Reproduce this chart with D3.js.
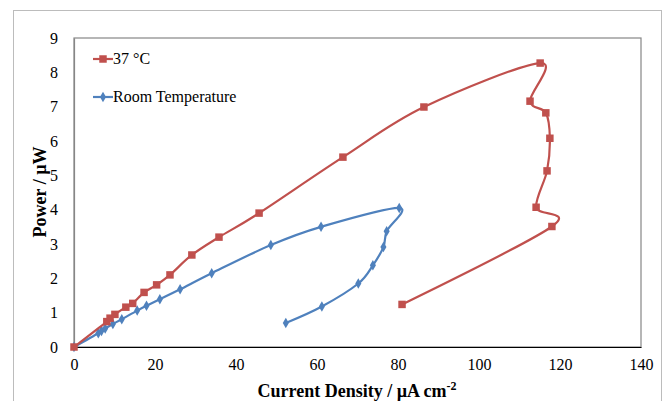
<!DOCTYPE html>
<html>
<head>
<meta charset="utf-8">
<script src="https://cdn.jsdelivr.net/npm/d3@7/dist/d3.min.js"></script>
<style>
  html, body { margin: 0; padding: 0; background: #fff; }
  svg { display: block; font-family: "Liberation Serif", "Times New Roman", serif; }
</style>
</head>
<body>
<svg id="chart" width="665" height="401"></svg>
<script>
// Power curve at 37 °C: current density (µA cm⁻²) and power (µW)
const warmCurrent = [0, 8.1, 8.9, 10.1, 12.8, 14.5, 17.3, 20.4, 23.7, 29.1, 35.8, 45.7, 66.4, 86.4, 115.1, 112.6, 116.5, 117.5, 116.8, 114.1, 118.0, 81.0];
const warmPower   = [0, 0.74, 0.84, 0.95, 1.16, 1.27, 1.59, 1.81, 2.10, 2.68, 3.20, 3.90, 5.53, 6.99, 8.27, 7.16, 6.82, 6.08, 5.13, 4.07, 3.51, 1.24];

// Power curve at room temperature
const roomCurrent = [0, 6.0, 6.8, 7.7, 9.6, 11.8, 15.6, 17.9, 21.2, 26.2, 34.0, 48.6, 61.0, 80.3, 77.2, 76.4, 73.8, 70.2, 61.2, 52.3];
const roomPower   = [0, 0.40, 0.47, 0.54, 0.67, 0.81, 1.06, 1.20, 1.39, 1.68, 2.15, 2.97, 3.50, 4.05, 3.37, 2.91, 2.38, 1.85, 1.18, 0.70];

const xTicks = [0, 20, 40, 60, 80, 100, 120, 140];
const yTicks = [0, 1, 2, 3, 4, 5, 6, 7, 8, 9];

const seriesNames = ["37 °C", "Room Temperature"];
const seriesColors = ["#C0504D", "#4F81BD"];

const svg = d3.select("#chart");

// Chart frame
svg.append("rect")
  .attr("x", 13.5).attr("y", 10.5)
  .attr("width", 648).attr("height", 420)
  .attr("fill", "#fff").attr("stroke", "#bcbcbc").attr("stroke-width", 1);

const plot = { left: 74, right: 641, top: 38, bottom: 347 };

const x = d3.scaleLinear().domain([0, 140]).range([plot.left, plot.right]);
const y = d3.scaleLinear().domain([0, 9]).range([plot.bottom, plot.top]);

// Plot area border
svg.append("rect")
  .attr("x", plot.left).attr("y", plot.top)
  .attr("width", plot.right - plot.left).attr("height", plot.bottom - plot.top)
  .attr("fill", "none").attr("stroke", "#868686").attr("stroke-width", 1.2);

// Axes (labels only, no tick marks)
const xAxis = svg.append("g")
  .attr("transform", `translate(0,${plot.bottom})`)
  .call(d3.axisBottom(x).tickValues(xTicks).tickSize(0).tickPadding(12).tickFormat(d3.format("d")));
xAxis.select(".domain").attr("stroke", "#000").attr("stroke-width", 1.2);
xAxis.selectAll("text").attr("font-size", 16).attr("font-family", "Liberation Serif, serif").attr("fill", "#000");

const yAxis = svg.append("g")
  .attr("transform", `translate(${plot.left},0)`)
  .call(d3.axisLeft(y).tickValues(yTicks).tickSize(0).tickPadding(16).tickFormat(d3.format("d")));
yAxis.select(".domain").attr("stroke", "#868686").attr("stroke-width", 1.2);
yAxis.selectAll("text").attr("font-size", 16).attr("font-family", "Liberation Serif, serif").attr("fill", "#000");

// Axis titles
const xTitle = svg.append("text")
  .attr("x", 357).attr("y", 397)
  .attr("text-anchor", "middle")
  .attr("font-size", 18).attr("font-weight", "bold");
xTitle.append("tspan").text("Current Density / µA cm");
xTitle.append("tspan").attr("dy", -7).attr("font-size", 12).text("-2");

svg.append("text")
  .attr("transform", "translate(46,192) rotate(-90)")
  .attr("text-anchor", "middle")
  .attr("font-size", 18).attr("font-weight", "bold")
  .text("Power / µW");

// Series
const warm = warmCurrent.map((c, i) => [c, warmPower[i]]);
const room = roomCurrent.map((c, i) => [c, roomPower[i]]);

const line = d3.line()
  .x(d => x(d[0])).y(d => y(d[1]))
  .curve(d3.curveCardinal.tension(0));

const squareSym = d3.symbol().type(d3.symbolSquare).size(56);
const diamondSym = d3.symbol().type(d3.symbolDiamond).size(32);

function drawSeries(data, color, sym) {
  svg.append("path")
    .datum(data)
    .attr("d", line)
    .attr("fill", "none")
    .attr("stroke", color)
    .attr("stroke-width", 2.2);
  svg.append("g").selectAll("path")
    .data(data)
    .join("path")
    .attr("transform", d => `translate(${x(d[0])},${y(d[1])})`)
    .attr("d", sym)
    .attr("fill", color);
}

drawSeries(room, seriesColors[1], diamondSym);
drawSeries(warm, seriesColors[0], squareSym);

// Legend
const legend = svg.append("g");
const legendRows = [
  { name: seriesNames[0], color: seriesColors[0], sym: squareSym, y: 59 },
  { name: seriesNames[1], color: seriesColors[1], sym: diamondSym, y: 97 }
];
legendRows.forEach(r => {
  legend.append("line")
    .attr("x1", 93).attr("x2", 113)
    .attr("y1", r.y).attr("y2", r.y)
    .attr("stroke", r.color).attr("stroke-width", 2.2);
  legend.append("path")
    .attr("transform", `translate(103,${r.y})`)
    .attr("d", r.sym)
    .attr("fill", r.color);
  legend.append("text")
    .attr("x", 113).attr("y", r.y + 5)
    .attr("font-size", 16)
    .text(r.name);
});
</script>
</body>
</html>
